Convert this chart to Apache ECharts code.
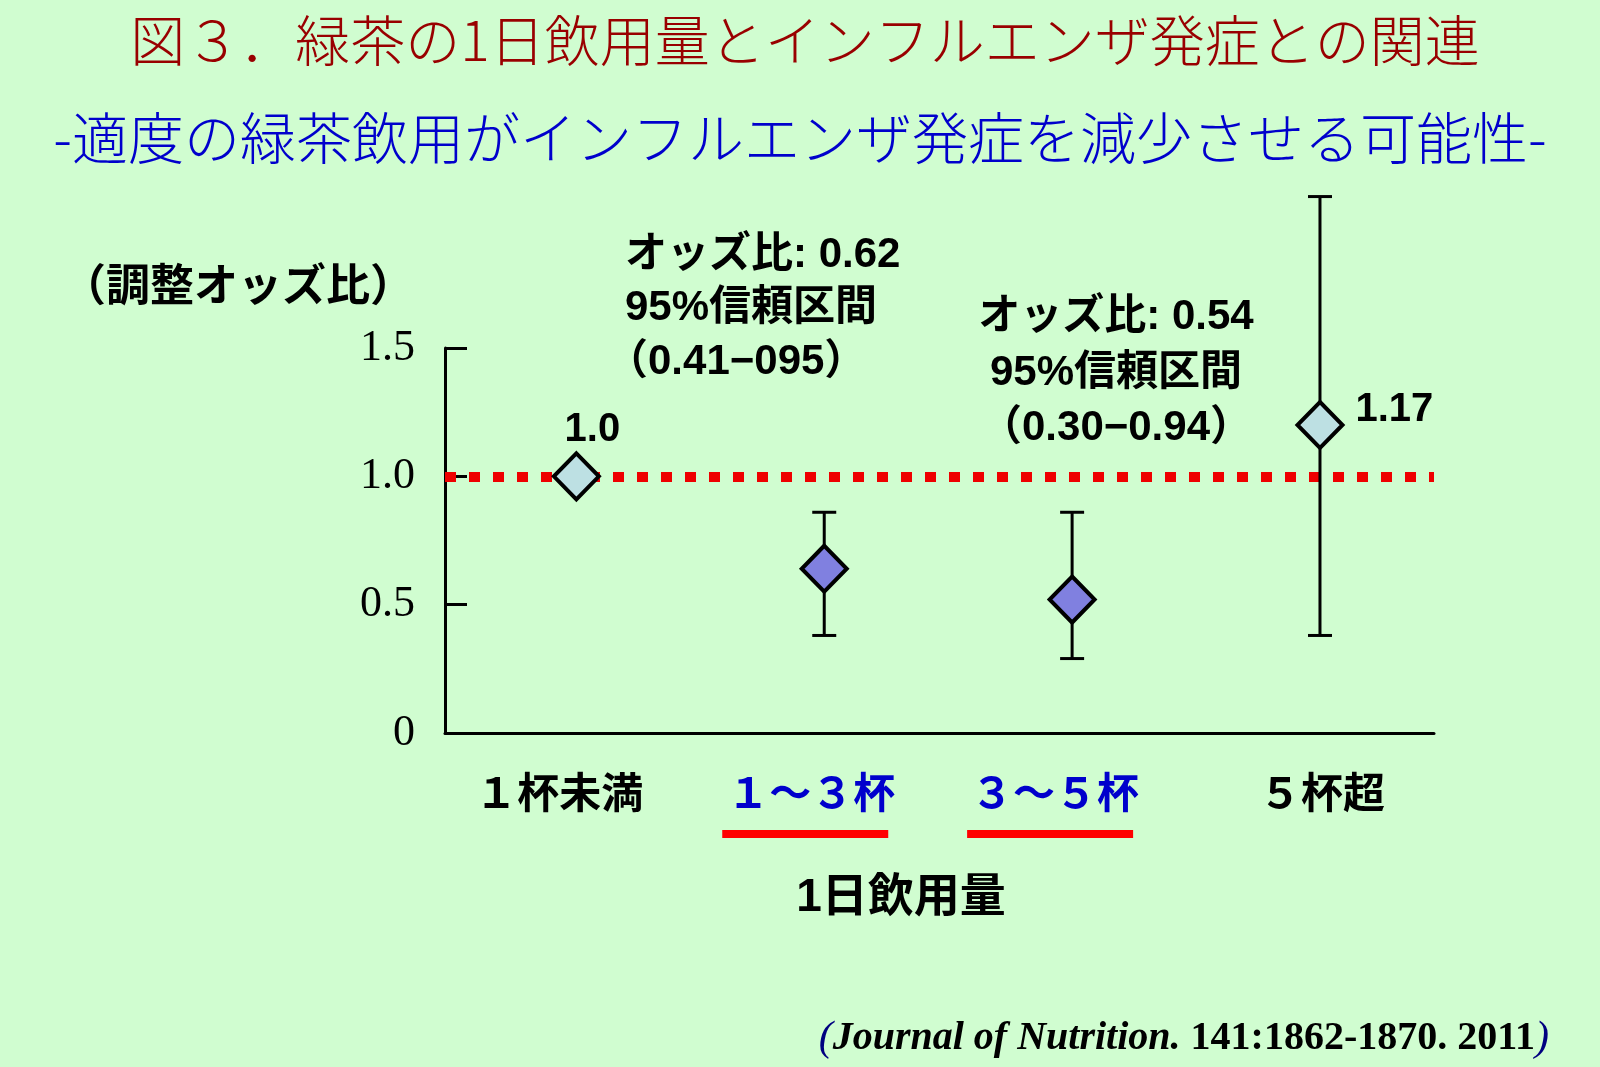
<!DOCTYPE html>
<html><head><meta charset="utf-8">
<script src="https://cdn.jsdelivr.net/npm/echarts@6/dist/echarts.min.js"></script>
<style>html,body{margin:0;padding:0;background:#d0fdd0;} #c{width:1600px;height:1067px;}</style>
</head><body><div id="c"></div>
<script>
// ---- data ----
const categories = ['１杯未満', '１〜３杯', '３〜５杯', '５杯超'];
const oddsRatio = [1.0, 0.64, 0.52, 1.2];
const ciLower = [null, 0.38, 0.29, 0.38];
const ciUpper = [null, 0.86, 0.86, 2.09];
const pointLabels = ['1.0', '', '', '1.17'];
const referenceValue = 1.0;
const yMin = 0, yMax = 1.5, yStep = 0.5;
const titleText = '図３．緑茶の1日飲用量とインフルエンザ発症との関連';
const subtitleText = '-適度の緑茶飲用がインフルエンザ発症を減少させる可能性-';
const yAxisName = '（調整オッズ比）';
const xAxisName = '1日飲用量';
const note1 = ['オッズ比: 0.62', '95%信頼区間', '（0.41−095）'];
const note2 = ['オッズ比: 0.54', '95%信頼区間', '（0.30−0.94）'];
const sourceJournal = 'Journal of Nutrition.';
const sourceRef = ' 141:1862-1870. 2011';

// ---- styling / layout ----
const SANS = '"Liberation Sans", "Noto Sans CJK JP", sans-serif';
const CJK = '"Noto Sans CJK JP", sans-serif';
const SERIF = '"Liberation Serif", "Times New Roman", serif';
const emphasized = [false, true, true, false];
const labelShift = [-17, -13, -17, 2];
const barShift = [0, -19, -22, 0];
const refFill = '#bde0e3', lowFill = '#8080e0';

const rich = {};
categories.forEach((c, i) => {
  const s = labelShift[i];
  rich['t' + i] = {
    color: emphasized[i] ? '#0000cc' : '#000',
    fontSize: 42, fontWeight: 'bold', fontFamily: SANS, lineHeight: 48,
    padding: [0, Math.max(0, -2 * s), 0, Math.max(0, 2 * s)]
  };
  rich['b' + i] = { width: 166, height: 8, lineHeight: 28, backgroundColor: emphasized[i] ? '#ff0000' : 'transparent' };
  rich['s' + i] = { width: Math.abs(2 * barShift[i]), height: 8, lineHeight: 28 };
});

const scatterData = categories.map((c, i) => {
  const item = { value: [i, oddsRatio[i]], itemStyle: { color: emphasized[i] ? lowFill : refFill } };
  if (pointLabels[i]) {
    item.label = i === 0
      ? { show: true, position: 'top', offset: [16, 4], formatter: pointLabels[i] }
      : { show: true, position: 'right', offset: [6, -15], formatter: pointLabels[i] };
  }
  return item;
});
const ciData = [];
categories.forEach((c, i) => { if (ciLower[i] != null) ciData.push([i, ciLower[i], ciUpper[i]]); });

function txt(text, x, y, opts) {
  return { type: 'text', x: x, y: y, z: 10, style: Object.assign({ text: text, fill: '#000', align: 'center', verticalAlign: 'middle' }, opts) };
}
const noteFont = { fontSize: 42, fontWeight: 'bold', fontFamily: SANS };

const chart = echarts.init(document.getElementById('c'), null, { renderer: 'canvas' });
chart.setOption({
  backgroundColor: '#d0fdd0',
  animation: false,
  grid: { left: 445, top: 348, width: 989, height: 385, containLabel: false },
  xAxis: {
    type: 'value', min: -0.53, max: 3.46,
    axisLine: { show: true, onZero: false, lineStyle: { color: '#000', width: 3 } },
    axisTick: { show: false }, splitLine: { show: false },
    axisLabel: {
      customValues: categories.map((c, i) => i), margin: 39,
      formatter: v => { const i = Math.round(v); const sp = barShift[i] ? `{s${i}|}` : ''; return `{t${i}|${categories[i]}}\n{b${i}|}${sp}`; },
      rich: rich
    }
  },
  yAxis: {
    type: 'value', min: yMin, max: yMax, interval: yStep,
    axisLine: { show: true, onZero: false, lineStyle: { color: '#000', width: 3 } },
    axisTick: { show: true, inside: true, length: 22, lineStyle: { color: '#000', width: 3 } },
    splitLine: { show: false },
    axisLabel: { color: '#000', fontSize: 44, fontFamily: SERIF, margin: 30, formatter: v => v === 0 ? '0' : v.toFixed(1) }
  },
  series: [
    {
      type: 'line', data: [], z: 1, silent: true,
      markLine: {
        silent: true, z: 1, symbol: 'none', label: { show: false },
        lineStyle: { color: '#ee0000', width: 10, type: [11, 13], opacity: 1 },
        data: [{ yAxis: referenceValue }]
      }
    },
    {
      type: 'custom', z: 2, clip: false, silent: true,
      encode: { x: 0, y: [1, 2] },
      data: ciData,
      renderItem: (params, api) => {
        const x = api.value(0);
        const lo = api.coord([x, api.value(1)]);
        const hi = api.coord([x, api.value(2)]);
        const cap = 12, st = { stroke: '#000', lineWidth: 3 };
        return { type: 'group', children: [
          { type: 'line', shape: { x1: lo[0], y1: lo[1], x2: hi[0], y2: hi[1] }, style: st },
          { type: 'line', shape: { x1: lo[0] - cap, y1: lo[1], x2: lo[0] + cap, y2: lo[1] }, style: st },
          { type: 'line', shape: { x1: hi[0] - cap, y1: hi[1], x2: hi[0] + cap, y2: hi[1] }, style: st }
        ]};
      }
    },
    {
      type: 'scatter', z: 6, symbol: 'diamond', symbolSize: [45, 46],
      itemStyle: { borderColor: '#000', borderWidth: 4, opacity: 1 },
      label: { color: '#000', fontSize: 40, fontWeight: 'bold', fontFamily: SANS },
      data: scatterData
    }
  ],
  graphic: [
    txt(titleText, 805, 40, { fontSize: 55, fontWeight: 300, fontFamily: CJK, fill: '#990000' }),
    txt(subtitleText, 800, 138, { fontSize: 56, fontWeight: 300, fontFamily: CJK, fill: '#0000cc' }),
    txt(yAxisName, 238, 284, { fontSize: 44, fontWeight: 'bold', fontFamily: CJK }),
    txt(note1[0], 625, 255, Object.assign({ align: 'left' }, noteFont)),
    txt(note1[1], 625, 308, Object.assign({ align: 'left' }, noteFont)),
    txt(note1[2], 606, 362, Object.assign({ align: 'left' }, noteFont)),
    txt(note2[0], 1116, 317, noteFont),
    txt(note2[1], 1116, 373, noteFont),
    txt(note2[2], 1116, 428, noteFont),
    txt(xAxisName, 901, 898, { fontSize: 46, fontWeight: 'bold', fontFamily: SANS }),
    {
      type: 'text', x: 1549, y: 1039, z: 10,
      style: {
        text: `{p|(}{i|${sourceJournal}}{n|${sourceRef}}{p|)}`,
        align: 'right', verticalAlign: 'middle',
        rich: {
          p: { fill: '#000080', fontFamily: SERIF, fontStyle: 'italic', fontSize: 42 },
          i: { fill: '#000', fontFamily: SERIF, fontStyle: 'italic', fontWeight: 'bold', fontSize: 40 },
          n: { fill: '#000', fontFamily: SERIF, fontWeight: 'bold', fontSize: 40 }
        }
      }
    }
  ]
});
</script>
</body></html>
